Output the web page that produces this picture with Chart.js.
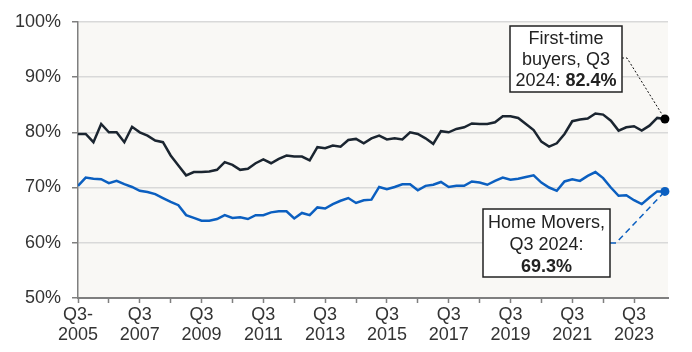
<!DOCTYPE html>
<html>
<head>
<meta charset="utf-8">
<script src="https://cdn.jsdelivr.net/npm/chart.js@4/dist/chart.umd.min.js"></script>
<style>
  html, body { margin: 0; padding: 0; background: #ffffff; }
  #wrap { width: 692px; height: 352px; }
</style>
</head>
<body>
<div id="wrap"><canvas id="chart" width="692" height="352"></canvas></div>
<script>
    // Quarterly series, Q3 2005 to Q3 2024 (77 quarters)
    const firstTimeBuyers = [
        79.7, 79.7, 78.2, 81.5, 80.0, 80.0, 78.2, 81.0, 80.0, 79.4, 78.5, 78.2,
        75.8, 74.0, 72.2, 72.8, 72.8, 72.9, 73.2, 74.6, 74.1, 73.2, 73.4, 74.4,
        75.1, 74.4, 75.2, 75.8, 75.6, 75.6, 74.9, 77.3, 77.1, 77.6, 77.4, 78.6,
        78.8, 78.0, 78.9, 79.4, 78.7, 78.9, 78.7, 80.0, 79.7, 78.9, 77.9, 80.2,
        80.0, 80.6, 80.9, 81.6, 81.5, 81.5, 81.8, 82.9, 82.9, 82.6, 81.5, 80.4,
        78.3, 77.4, 78.0, 79.7, 82.0, 82.3, 82.5, 83.4, 83.2, 82.1, 80.3, 80.9,
        81.1, 80.3, 81.2, 82.6, 82.4
    ];
    const homeMovers = [
        70.3, 71.8, 71.6, 71.5, 70.8, 71.2, 70.6, 70.1, 69.4, 69.2, 68.8, 68.1,
        67.4, 66.8, 65.0, 64.5, 64.0, 64.0, 64.3, 65.0, 64.5, 64.6, 64.3, 65.0,
        65.0, 65.5, 65.7, 65.7, 64.4, 65.4, 65.0, 66.4, 66.2, 67.0, 67.6, 68.1,
        67.2, 67.7, 67.8, 70.1, 69.7, 70.1, 70.6, 70.6, 69.5, 70.3, 70.5, 71.0,
        70.1, 70.3, 70.3, 71.1, 70.9, 70.5, 71.2, 71.8, 71.4, 71.6, 71.9, 72.2,
        70.9, 70.0, 69.4, 71.1, 71.5, 71.2, 72.1, 72.8, 71.7, 70.0, 68.5, 68.6,
        67.7, 67.0, 68.2, 69.3, 69.3
    ];
    // x tick labels, every 8 quarters (two years)
    const xTickLabels = [
        ['Q3-', '2005'], ['Q3', '2007'], ['Q3', '2009'], ['Q3', '2011'], ['Q3', '2013'],
        ['Q3', '2015'], ['Q3', '2017'], ['Q3', '2019'], ['Q3', '2021'], ['Q3', '2023']
    ];
    const ftbNote = ['First-time', 'buyers, Q3', ['2024: ', '82.4%']];
    const hmNote = ['Home Movers,', 'Q3 2024:', ['', '69.3%']];

    const FONT = '"Liberation Sans", Arial, sans-serif';
    const DARK = '#1b2530';
    const BLUE = '#0b5fc0';

    const toPoints = arr => arr.map((v, i) => ({ x: i, y: v }));

    // Plot background
    const plotBg = {
        id: 'plotBg',
        beforeDraw(chart) {
            const a = chart.chartArea;
            const c = chart.ctx;
            c.save();
            c.fillStyle = '#f9f8f5';
            c.fillRect(a.left, a.top, a.right - a.left, a.bottom - a.top);
            c.restore();
        }
    };

    function drawNote(c, lines, box, cx, lineYs) {
        c.fillStyle = '#ffffff';
        c.fillRect(box.x, box.y, box.w, box.h);
        c.strokeStyle = '#222222';
        c.lineWidth = 1.5;
        c.strokeRect(box.x, box.y, box.w, box.h);
        c.fillStyle = '#222222';
        c.textBaseline = 'middle';
        lines.forEach((ln, i) => {
            if (Array.isArray(ln)) {
                c.font = '18px ' + FONT;
                const w1 = c.measureText(ln[0]).width;
                c.font = 'bold 18px ' + FONT;
                const w2 = c.measureText(ln[1]).width;
                let x = cx - (w1 + w2) / 2;
                c.textAlign = 'left';
                c.font = '18px ' + FONT;
                c.fillText(ln[0], x, lineYs[i]);
                c.font = 'bold 18px ' + FONT;
                c.fillText(ln[1], x + w1, lineYs[i]);
            } else {
                c.textAlign = 'center';
                c.font = '18px ' + FONT;
                c.fillText(ln, cx, lineYs[i]);
            }
        });
    }

    // Call-out boxes for the latest values
    const notes = {
        id: 'notes',
        afterDraw(chart) {
            const c = chart.ctx;
            const xs = chart.scales.x, ys = chart.scales.y;
            const last = firstTimeBuyers.length - 1;
            const fx = xs.getPixelForValue(last), fy = ys.getPixelForValue(firstTimeBuyers[last]);
            const hx = xs.getPixelForValue(last), hy = ys.getPixelForValue(homeMovers[last]);
            c.save();

            // first-time buyers leader (dotted)
            c.strokeStyle = '#111111';
            c.lineWidth = 1;
            c.setLineDash([2, 2]);
            c.beginPath();
            c.moveTo(622, 58);
            c.lineTo(627, 58);
            c.lineTo(fx, fy);
            c.stroke();

            // home movers leader (dashed)
            c.strokeStyle = BLUE;
            c.lineWidth = 1.5;
            c.setLineDash([6, 4]);
            c.beginPath();
            c.moveTo(610, 243);
            c.lineTo(616, 243);
            c.lineTo(hx, hy);
            c.stroke();
            c.setLineDash([]);

            // end markers
            c.fillStyle = '#000000';
            c.beginPath(); c.arc(fx, fy, 4.5, 0, Math.PI * 2); c.fill();
            c.fillStyle = BLUE;
            c.beginPath(); c.arc(hx, hy, 4.5, 0, Math.PI * 2); c.fill();

            drawNote(c, ftbNote, { x: 510, y: 26, w: 112, h: 66 }, 566, [39, 60, 81]);
            drawNote(c, hmNote, { x: 483, y: 209, w: 127, h: 68 }, 546.5, [223, 245, 267]);
            c.restore();
        }
    };

    const ctx = document.getElementById('chart').getContext('2d');
    const chart = new Chart(ctx, {
        type: 'line',
        data: {
            datasets: [{
                label: 'First-time buyers',
                data: toPoints(firstTimeBuyers),
                borderColor: DARK,
                borderWidth: 2.5,
                pointRadius: 0,
                fill: false,
                tension: 0
            },
            {
                label: 'Home Movers',
                data: toPoints(homeMovers),
                borderColor: BLUE,
                borderWidth: 2.5,
                pointRadius: 0,
                fill: false,
                tension: 0
            }]
        },
        options: {
            responsive: false,
            animation: false,
            layout: { padding: { top: 20, right: 24, left: 0, bottom: 0 } },
            plugins: {
                legend: { display: false },
                tooltip: { enabled: false }
            },
            scales: {
                x: {
                    type: 'linear',
                    min: 0,
                    max: 76.4,
                    afterBuildTicks: scale => {
                        scale.ticks = scale.ticks.filter(t => t.value % 4 === 0);
                    },
                    afterFit: scale => { scale.height = 54; },
                    ticks: {
                        stepSize: 4,
                        autoSkip: false,
                        maxRotation: 0,
                        padding: 2,
                        color: '#333333',
                        font: { family: FONT, size: 18, lineHeight: 1.12 },
                        callback: value => (value % 8 === 0 ? xTickLabels[value / 8] : '')
                    },
                    grid: {
                        drawOnChartArea: false,
                        drawTicks: true,
                        tickLength: 5,
                        tickColor: '#7f7f7f',
                        tickWidth: 1.5
                    },
                    border: { color: '#7f7f7f', width: 2 }
                },
                y: {
                    min: 50,
                    max: 100,
                    afterFit: scale => { scale.width = 78; },
                    ticks: {
                        stepSize: 10,
                        padding: 11,
                        color: '#333333',
                        font: { family: FONT, size: 18 },
                        callback: value => value + '%'
                    },
                    grid: {
                        color: '#d9d9d9',
                        lineWidth: 1.5,
                        tickLength: 6,
                        tickColor: '#7f7f7f',
                        tickWidth: 1.5
                    },
                    border: { color: '#7f7f7f', width: 1.5 }
                }
            }
        },
        plugins: [plotBg, notes]
    });
</script>
</body>
</html>
